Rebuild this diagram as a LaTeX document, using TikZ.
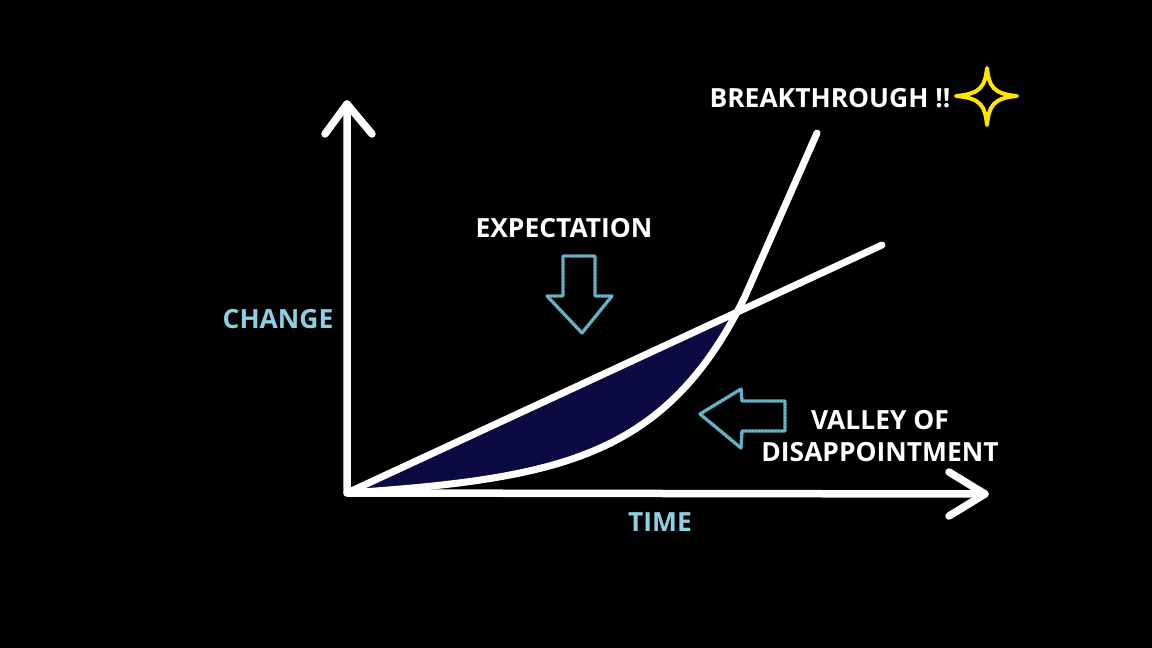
\documentclass[tikz,border=0pt]{standalone}
\usepackage{fontspec}
\setmainfont{Open Sans}
\usetikzlibrary{calc}
\definecolor{valley}{HTML}{0B0A42}
\definecolor{lblue}{HTML}{8FCFE4}
\definecolor{sketch}{HTML}{5AA6BA}
\definecolor{sketchhi}{HTML}{B5E4EE}
\definecolor{staryellow}{HTML}{FFE600}
\begin{document}
\begin{tikzpicture}[x=1pt,y=-1pt,
  axis/.style={white,line width=7.5pt,line cap=round,line join=round},
  graphline/.style={white,line width=7pt,line cap=round,line join=round},
  lbl/.style={white,font=\bfseries\fontsize{26.4}{32}\selectfont,inner sep=0pt},
  bluelbl/.style={lbl,text=lblue},
  hollowarrow/.style={draw=sketch,line width=3.4pt,line join=round},
  arrowtexture/.style={draw=sketchhi,line width=1.2pt,dash pattern=on 1pt off 2.3pt,opacity=0.7},
  sparkle/.style={draw=staryellow,line width=4pt,line join=round}]
\fill[black] (0,0) rectangle (1152,648);
\useasboundingbox (0,0) rectangle (1152,648);

\coordinate (O) at (347,493);
\coordinate (ytop) at (347,104);
\coordinate (xend) at (985,494);
\coordinate (L1) at (882,245);
\coordinate (X) at (738,311);
\coordinate (C1) at (817,133);

% valley fill
\fill[valley] plot[domain=0:391,samples=80] ({347+\x},{493-(0.04*\x+2.295*(exp(0.011*\x)-1))}) -- (O) -- cycle;

% graph lines
\draw[graphline] (O) -- (L1);
\draw[graphline] plot[domain=0:398,samples=100] ({347+\x},{493-(0.04*\x+2.295*(exp(0.011*\x)-1))}) -- (C1);

% axes
\draw[axis] (ytop) -- (O) -- (xend);
\draw[axis] (325,134) -- (ytop) -- (372,134);
\draw[axis] (949,472) -- (xend) -- (949,516);

% down arrow (expectation)
\coordinate (dtip) at (582,333);
\foreach \s in {hollowarrow,arrowtexture}
  \draw[\s] (563,256) -- (595,256) -- (595,296) -- (612,296) -- (dtip) -- (547,296) -- (563,296) -- cycle;

% left arrow (valley)
\coordinate (ltip) at (700,414);
\foreach \s in {hollowarrow,arrowtexture}
  \draw[\s] (ltip) -- (741,389) -- (742,401) -- (785,401) -- (785,431) -- (742,431) -- (741,448) -- cycle;

% star
\draw[sparkle] (987,68) .. controls (989,86) and (993,94) .. (1017,96)
  .. controls (993,98) and (989,106) .. (987,125)
  .. controls (985,106) and (981,98) .. (956,96)
  .. controls (981,94) and (985,86) .. cycle;

% labels
\node[lbl] (exp) at (564,228) {EXPECTATION};
\node[lbl] (brk) at (830,98) {BREAKTHROUGH !!};
\node[bluelbl] (chg) at (278,319) {CHANGE};
\node[bluelbl] (time) at (660,522) {TIME};
\node[lbl,align=center] (vod) at (880,436) {VALLEY OF\\DISAPPOINTMENT};
\end{tikzpicture}
\end{document}
